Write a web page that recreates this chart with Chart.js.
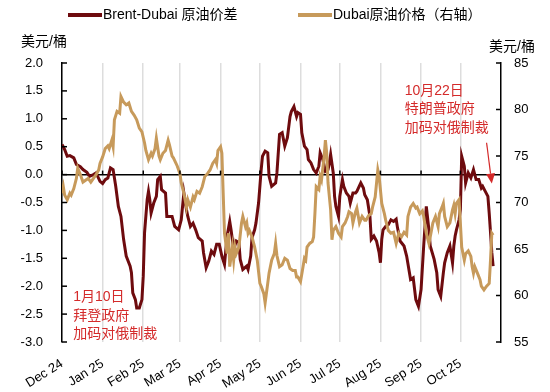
<!DOCTYPE html>
<html>
<head>
<meta charset="utf-8">
<script src="https://cdn.jsdelivr.net/npm/chart.js@4.4.1/dist/chart.umd.min.js"></script>
<style>
  body { margin: 0; background: #fff; }
  #wrap { width: 550px; height: 392px; }
</style>
</head>
<body>
<div id="wrap"><canvas id="chart" width="550" height="392"></canvas></div>
<script>
// x values are days counted from 1 Dec 2024
var monthStarts = [0, 31, 62, 90, 121, 151, 182, 212, 243, 274, 304];
var monthLabels = ['Dec 24', 'Jan 25', 'Feb 25', 'Mar 25', 'Apr 25', 'May 25',
                   'Jun 25', 'Jul 25', 'Aug 25', 'Sep 25', 'Oct 25'];

var spreadName = 'Brent-Dubai 原油价差';
var dubaiName = 'Dubai原油价格（右轴）';

var spreadDays = [
    0, 2, 4, 6, 9, 11, 14, 16, 19, 21,
    24, 26, 29, 31, 33, 35, 37, 39, 41, 43,
    45, 47, 49, 52, 53, 54, 56, 57, 59, 61,
    62, 63, 65, 66, 67, 68, 70, 72, 73, 75,
    76, 79, 80, 84, 86, 89, 91, 93, 95, 96,
    98, 100, 102, 104, 107, 108, 110, 112, 114, 116,
    118, 120, 122, 124, 126, 128, 129, 131, 133, 135,
    136, 138, 141, 142, 144, 145, 147, 148, 150, 152,
    153, 155, 157, 158, 160, 163, 164, 166, 168, 170,
    172, 174, 175, 177, 179, 180, 182, 183, 185, 187,
    188, 190, 192, 194, 196, 197, 199, 201, 203, 204,
    205, 207, 208, 209, 211, 212, 214, 215, 217, 219,
    220, 222, 224, 225, 228, 230, 231, 233, 235, 236,
    238, 240, 242, 243, 244, 245, 247, 249, 251, 253,
    255, 256, 258, 261, 263, 266, 268, 270, 272, 274,
    276, 278, 280, 281, 284, 286, 287, 289, 291, 292,
    294, 296, 298, 299, 300, 301, 303, 304, 305, 307,
    308, 310, 312, 314, 316, 318, 320, 321, 323, 325,
    326, 327, 328, 329
];
var spreadValues = [
    0.54, 0.45, 0.33, 0.34, 0.30, 0.18, 0.14, 0.09, 0.04, -0.03,
    0.00, 0.03, -0.12, -0.16, -0.09, -0.06, 0.12, 0.09, -0.21, -0.57,
    -0.75, -1.16, -1.46, -1.64, -1.76, -2.12, -2.24, -2.39, -2.39, -2.24,
    -1.82, -1.04, -0.45, -0.30, -0.45, -0.69, -0.51, -0.39, -0.09, -0.03,
    -0.27, -0.33, -0.75, -0.75, -0.93, -0.99, -0.81, -0.33, -0.63, -0.75,
    -0.93, -0.87, -0.99, -1.13, -1.19, -1.40, -1.67, -1.55, -1.37, -1.43,
    -1.25, -1.25, -1.46, -1.61, -1.10, -0.84, -0.99, -1.34, -1.19, -1.22,
    -1.52, -1.70, -1.64, -1.70, -1.46, -1.13, -0.99, -0.87, -0.51, 0.09,
    0.33, 0.42, 0.39, -0.03, -0.21, -0.15, 0.03, 0.72, 0.75, 0.51,
    0.66, 1.04, 1.13, 1.22, 1.04, 1.11, 1.08, 0.75, 0.51, 0.45,
    0.27, 0.21, 0.09, 0.03, 0.15, 0.39, 0.27, 0.06, 0.09, 0.21,
    0.36, 0.03, -0.39, -0.57, -0.75, -0.39, -0.09, -0.21, -0.33, -0.39,
    -0.51, -0.33, -0.33, -0.30, -0.15, -0.24, -0.36, -0.45, -0.75, -1.16,
    -1.10, -1.19, -1.40, -1.58, -1.16, -0.99, -0.93, -0.90, -0.81, -0.84,
    -0.80, -0.95, -1.19, -1.28, -1.46, -1.88, -1.85, -2.24, -2.36, -2.06,
    -1.28, -0.57, -0.99, -1.28, -1.52, -1.76, -2.06, -2.18, -1.76, -1.58,
    -1.40, -1.28, -1.58, -1.28, -1.10, -0.99, -0.81, -0.63, 0.33, 0.15,
    -0.15, 0.03, -0.06, 0.09, -0.09, -0.09, -0.24, -0.21, -0.30, -0.39,
    -0.69, -1.04, -1.40, -1.64
];

var dubaiDays = [
    0, 1, 2, 4, 6, 7, 9, 11, 12, 14,
    16, 18, 20, 22, 24, 26, 28, 29, 31, 33,
    35, 36, 38, 39, 40, 42, 44, 45, 47, 49,
    51, 53, 55, 57, 59, 61, 63, 64, 66, 68,
    69, 71, 72, 74, 75, 77, 79, 81, 82, 84,
    85, 86, 87, 88, 90, 91, 93, 95, 96, 98,
    100, 101, 103, 105, 107, 109, 111, 113, 115, 117,
    118, 119, 121, 122, 123, 124, 126, 127, 128, 130,
    131, 132, 133, 135, 137, 138, 140, 141, 142, 143,
    145, 147, 149, 151, 152, 154, 155, 157, 158, 160,
    162, 163, 164, 166, 168, 170, 172, 174, 176, 178,
    179, 180, 182, 183, 185, 186, 187, 189, 191, 192,
    193, 194, 196, 197, 198, 200, 201, 202, 203, 205,
    206, 207, 209, 211, 213, 214, 216, 218, 219, 221,
    222, 224, 225, 227, 229, 231, 232, 234, 236, 237,
    239, 241, 242, 244, 246, 247, 249, 251, 253, 255,
    257, 259, 261, 263, 264, 266, 268, 270, 271, 273,
    275, 276, 278, 280, 281, 283, 285, 287, 288, 290,
    291, 292, 294, 296, 298, 299, 300, 301, 303, 304,
    305, 307, 308, 310, 312, 313, 314, 315, 317, 319,
    320, 322, 324, 326, 327, 328, 329
];
var dubaiValues = [
    71.0, 71.7, 70.8, 70.3, 71.0, 70.8, 71.5, 72.6, 73.7, 73.0,
    72.2, 72.4, 72.6, 72.2, 72.6, 73.0, 73.5, 74.2, 74.9, 75.8,
    76.1, 75.8, 76.7, 76.0, 78.9, 79.8, 79.6, 81.4, 80.8, 80.5,
    80.7, 79.8, 79.4, 78.9, 78.0, 77.6, 76.4, 75.6, 74.6, 75.3,
    75.0, 75.8, 76.9, 75.0, 74.6, 75.3, 75.6, 76.7, 76.2, 75.0,
    74.8, 74.5, 74.2, 73.9, 73.1, 72.1, 71.0, 69.5, 70.3, 69.5,
    70.6, 70.3, 71.2, 71.0, 71.7, 72.8, 73.1, 73.5, 74.2, 74.6,
    74.2, 75.6, 76.0, 75.3, 71.0, 66.7, 64.5, 66.7, 63.1, 65.2,
    63.8, 65.2, 64.5, 65.2, 67.8, 68.5, 67.4, 67.8, 66.7, 67.0,
    66.3, 65.2, 63.8, 61.3, 61.0, 60.2, 59.2, 61.3, 62.4, 63.8,
    64.5, 65.6, 64.3, 63.1, 63.3, 64.0, 63.8, 62.9, 62.7, 62.7,
    62.0, 62.0, 61.5, 62.3, 64.0, 63.8, 65.2, 65.6, 65.8, 66.3,
    68.8, 71.7, 71.4, 72.8, 72.4, 74.9, 76.7, 75.3, 72.1, 69.2,
    66.0, 67.0, 67.4, 66.7, 66.3, 67.4, 67.8, 68.5, 69.0, 68.8,
    67.8, 69.0, 69.4, 67.8, 68.5, 68.1, 68.1, 68.6, 68.8, 69.5,
    70.6, 73.5, 72.8, 69.9, 68.8, 68.1, 67.0, 66.7, 66.8, 65.6,
    66.7, 66.3, 66.8, 66.5, 68.5, 69.5, 69.9, 69.4, 69.5, 68.8,
    69.1, 68.5, 66.7, 65.6, 66.3, 67.8, 68.5, 67.4, 68.8, 69.5,
    69.9, 68.5, 67.4, 67.8, 69.2, 69.7, 68.8, 69.9, 70.3, 67.8,
    65.2, 63.8, 64.5, 64.8, 64.2, 63.1, 62.4, 63.1, 62.4, 61.7,
    61.0, 60.6, 61.0, 61.3, 63.8, 66.7, 66.5
];

// annotations, placed in data units (day, left-axis value)
var noteLeft = { day: 8.5, value: -2.2, lines: ['1月10日', '拜登政府', '加码对俄制裁'] };
var noteRight = { day: 261.5, value: 1.5, lines: ['10月22日', '特朗普政府', '加码对俄制裁'] };
var arrowFrom = { day: 324, value: 0.57 };
var arrowTo = { day: 328, value: -0.16 };

var FONT = '"Liberation Sans", Arial, "Noto Sans CJK SC", sans-serif';
var RED = '#6E0B0E';
var TAN = '#C79A5B';
var NOTE = '#D42A2A';

function toPoints(days, values) {
    var pts = [];
    for (var i = 0; i < days.length; i++) pts.push({ x: days[i], y: values[i] });
    return pts;
}

function line(ctx, x1, y1, x2, y2) {
    ctx.beginPath();
    ctx.moveTo(x1, y1);
    ctx.lineTo(x2, y2);
    ctx.stroke();
}

var decorations = {
    id: 'decorations',
    afterDatasetsDraw: function(chart) {
        var ctx = chart.ctx;
        var x = chart.scales.x, y = chart.scales.y, y1 = chart.scales.y1;
        var area = chart.chartArea;
        ctx.save();
        ctx.strokeStyle = '#000';
        ctx.lineWidth = 1.5;
        // inside tick marks on both value axes
        y.ticks.forEach(function(t) {
            var py = y.getPixelForValue(t.value);
            line(ctx, area.left, py, area.left + 5, py);
        });
        y1.ticks.forEach(function(t) {
            var py = y1.getPixelForValue(t.value);
            line(ctx, area.right - 5, py, area.right, py);
        });
        // small month ticks on the zero line
        var zero = y.getPixelForValue(0);
        monthStarts.forEach(function(d) {
            var px = x.getPixelForValue(d);
            line(ctx, px, zero - 4, px, zero);
        });

        // notes
        ctx.fillStyle = NOTE;
        ctx.font = '14px ' + FONT;
        ctx.textAlign = 'left';
        ctx.textBaseline = 'middle';
        [noteLeft, noteRight].forEach(function(n) {
            var px = x.getPixelForValue(n.day);
            var py = y.getPixelForValue(n.value);
            n.lines.forEach(function(s, i) { ctx.fillText(s, px, py + i * 18.5); });
        });

        // arrow
        var ax1 = x.getPixelForValue(arrowFrom.day), ay1 = y.getPixelForValue(arrowFrom.value);
        var ax2 = x.getPixelForValue(arrowTo.day), ay2 = y.getPixelForValue(arrowTo.value);
        var ang = Math.atan2(ay2 - ay1, ax2 - ax1);
        var head = 10, half = 4.5;
        var bx = ax2 - head * Math.cos(ang), by = ay2 - head * Math.sin(ang);
        ctx.strokeStyle = NOTE;
        ctx.lineWidth = 1.2;
        line(ctx, ax1, ay1, bx, by);
        ctx.beginPath();
        ctx.moveTo(ax2, ay2);
        ctx.lineTo(bx + half * Math.sin(ang), by - half * Math.cos(ang));
        ctx.lineTo(bx - half * Math.sin(ang), by + half * Math.cos(ang));
        ctx.closePath();
        ctx.fill();
        ctx.restore();
    },
    afterDraw: function(chart) {
        var ctx = chart.ctx;
        ctx.save();
        ctx.font = '14px ' + FONT;
        ctx.textBaseline = 'middle';
        ctx.fillStyle = '#000';
        // axis unit labels
        ctx.textAlign = 'left';
        ctx.fillText('美元/桶', 21, 42);
        ctx.fillText('美元/桶', 489, 47);

        // legend
        var items = [{ x: 68, ds: chart.data.datasets[0] }, { x: 298, ds: chart.data.datasets[1] }];
        items.forEach(function(it) {
            ctx.strokeStyle = it.ds.borderColor;
            ctx.lineWidth = 4;
            line(ctx, it.x, 15, it.x + 34, 15);
            ctx.fillStyle = '#000';
            ctx.fillText(it.ds.label, it.x + 35, 15);
        });
        ctx.restore();
    }
};

var chart = new Chart(document.getElementById('chart'), {
    type: 'line',
    data: {
        datasets: [{
            label: spreadName,
            data: toPoints(spreadDays, spreadValues),
            yAxisID: 'y',
            borderColor: RED,
            borderWidth: 3,
            pointRadius: 0,
            tension: 0,
            order: 2
        }, {
            label: dubaiName,
            data: toPoints(dubaiDays, dubaiValues),
            yAxisID: 'y1',
            borderColor: TAN,
            borderWidth: 3,
            pointRadius: 0,
            tension: 0,
            order: 1
        }]
    },
    options: {
        responsive: false,
        animation: false,
        layout: { padding: { top: 63, left: 0, right: 0, bottom: 0 } },
        plugins: {
            legend: { display: false },
            tooltip: { enabled: false }
        },
        scales: {
            x: {
                type: 'linear',
                min: 0,
                max: 335,
                afterBuildTicks: function(scale) {
                    scale.ticks = monthStarts.map(function(d) { return { value: d }; });
                },
                afterFit: function(scale) { scale.height = 50; },
                grid: { color: '#DDDDDD', lineWidth: 1.5, drawTicks: false },
                border: { display: false },
                ticks: {
                    autoSkip: false,
                    minRotation: 32,
                    maxRotation: 32,
                    padding: 14,
                    color: '#000',
                    font: { family: FONT, size: 13 },
                    callback: function(v, i) { return monthLabels[i]; }
                }
            },
            y: {
                position: 'left',
                min: -3,
                max: 2,
                afterFit: function(scale) { scale.width = 62; },
                grid: {
                    drawTicks: false,
                    color: function(c) { return c.tick && c.tick.value === 0 ? '#000' : 'rgba(0,0,0,0)'; },
                    lineWidth: 1.5
                },
                border: { display: true, color: '#000', width: 1.5 },
                ticks: {
                    stepSize: 0.5,
                    padding: 19,
                    color: '#000',
                    font: { family: FONT, size: 13 },
                    callback: function(v) { return v.toFixed(1); }
                }
            },
            y1: {
                position: 'right',
                min: 55,
                max: 85,
                afterFit: function(scale) { scale.width = 49; },
                grid: { drawOnChartArea: false, drawTicks: false },
                border: { display: true, color: '#000', width: 1.5 },
                ticks: {
                    stepSize: 5,
                    padding: 13,
                    color: '#000',
                    font: { family: FONT, size: 13 }
                }
            }
        }
    },
    plugins: [decorations]
});
</script>
</body>
</html>
